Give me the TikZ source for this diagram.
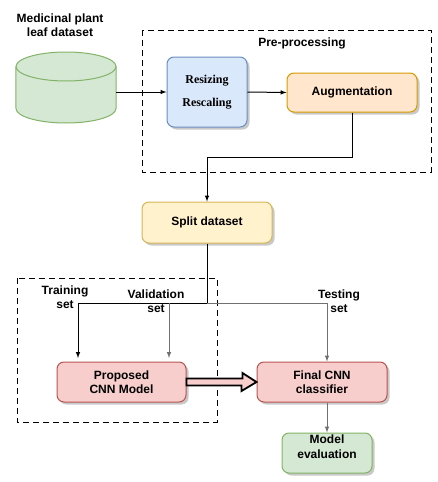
\documentclass[tikz,border=0pt]{standalone}
\usepackage{fontspec}
\setmainfont{Liberation Sans}
\newfontfamily\policeserif{Liberation Serif}
\usepackage{xcolor}
\usepackage{tikz}
\usetikzlibrary{shadows}

\definecolor{vertfond}{HTML}{D5E8D4}
\definecolor{vertbord}{HTML}{82B366}
\definecolor{bleufond}{HTML}{DAE8FC}
\definecolor{bleubord}{HTML}{6C8EBF}
\definecolor{orangefond}{HTML}{FFE6CC}
\definecolor{orangebord}{HTML}{D79B00}
\definecolor{jaunefond}{HTML}{FFF2CC}
\definecolor{jaunebord}{HTML}{D6B656}
\definecolor{rougefond}{HTML}{F8CECC}
\definecolor{rougebord}{HTML}{B85450}
\definecolor{gristrait}{HTML}{707070}

\begin{document}
\begin{tikzpicture}[x=1pt,y=-1pt,font=\fontsize{12}{14.5}\selectfont\bfseries]
% Styles
\tikzstyle{fleche}=[->,>=latex,line width=1pt]
\tikzstyle{flechegrise}=[->,>=latex,line width=1pt,draw=gristrait]
\tikzstyle{cadre}=[line width=1pt,dash pattern=on 6pt off 4pt]
\tikzstyle{boite}=[draw,rounded corners=7pt,line width=1pt,align=center,inner sep=0pt,
  drop shadow={shadow xshift=2.5pt,shadow yshift=-2.5pt,fill=black!30,opacity=0.7}]
\tikzstyle{texte}=[align=center,inner sep=0pt]
\tikzstyle{cylindre}=[draw=vertbord,fill=vertfond,line width=1pt]
% Dimensions du cylindre
\def\RayonX{50pt}
\def\RayonY{14.5pt}
% Zone
\useasboundingbox (0,0) rectangle (437,482);
% Cadres
\draw[cadre] (142,30) rectangle (431,172);
\draw[cadre] (17,278) rectangle (217,422);
% Noeuds
\node[texte] (titre) at (60,25) {Medicinal plant\\leaf dataset};
\node[minimum width=100,minimum height=71,inner sep=0pt] (base) at (66,88) {};
\draw[cylindre] (base.north west) ++(0,14.5) -- (16,108.5)
  arc[start angle=180,end angle=360,x radius=\RayonX,y radius=\RayonY] -- (116,66.5)
  arc[start angle=0,end angle=180,x radius=\RayonX,y radius=\RayonY] -- cycle;
\draw[cylindre,fill=none] (16,66.5) arc[start angle=180,end angle=360,x radius=\RayonX,y radius=\RayonY];
\node[texte] (pretraitement) at (302,43) {Pre-processing};
\node[boite,draw=bleubord,fill=bleufond,minimum width=80,minimum height=70,
  font=\fontsize{12}{14.5}\selectfont\policeserif\bfseries] (redim) at (207,92) {Resizing\\[9pt]Rescaling};
\node[boite,draw=orangebord,fill=orangefond,minimum width=130,minimum height=39] (augm) at (352,92.5) {Augmentation};
\node[boite,draw=jaunebord,fill=jaunefond,minimum width=130,minimum height=41] (partage) at (207,222.5) {Split dataset};
\node[texte] (entrainement) at (65,297) {Training\\set};
\node[texte] (validation) at (156,301) {Validation\\set};
\node[texte] (essai) at (339,301) {Testing\\set};
\node[boite,draw=rougebord,fill=rougefond,minimum width=129,minimum height=40] (propose) at (121.5,382) {Proposed\\CNN Model};
\node[boite,draw=rougebord,fill=rougefond,minimum width=130,minimum height=40] (final) at (322,382) {Final CNN\\classifier};
\node[boite,draw=vertbord,fill=vertfond,minimum width=90,minimum height=40] (evaluation) at (327,453) {Model\\evaluation\\[-2pt]\mbox{}};
% Points de passage
\coordinate (coude) at (207,157);
\coordinate (fourche) at (207,303);
\coordinate (branche) at (169,303);
\coordinate (coin) at (327,303);
\coordinate (arriveeA) at (78,358);
\coordinate (arriveeB) at (169,358);
% Arcs
\draw[fleche] (base.east |- redim.west) -- (redim.west);
\draw[fleche] (redim.east) -- (augm.west);
\draw[fleche] (augm.south) |- (coude) -- (partage.north);
\draw[line width=1pt] (partage.south) -- (fourche);
\draw[fleche] (fourche) -| (arriveeA);
\draw[flechegrise] (branche) -- (arriveeB);
\draw[flechegrise] (fourche) -- (coin) -- (coin |- final.north);
\draw[flechegrise] (evaluation.north |- final.south) -- (evaluation.north);
\draw[line width=1.8pt,fill=rougefond,line join=miter]
  ([yshift=3.5pt]propose.east) -- ++(56pt,0pt) -- ++(0pt,5.5pt) -- (final.west)
  -- ++(-15pt,-9pt) -- ++(0pt,5.5pt) -- ([yshift=-3.5pt]propose.east) -- cycle;
\end{tikzpicture}
\end{document}
